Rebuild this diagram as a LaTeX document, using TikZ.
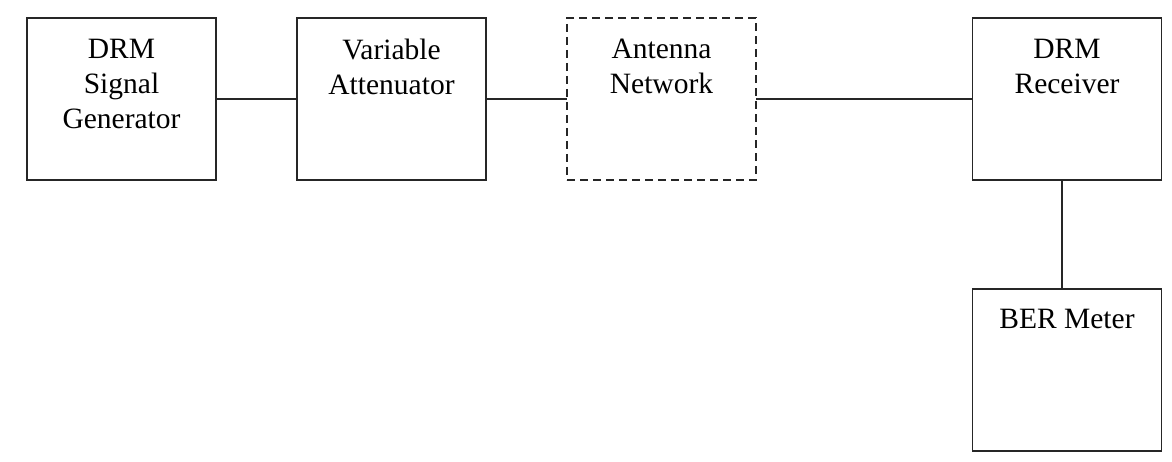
\documentclass[tikz,border=0pt]{standalone}
\usepackage{fontspec}
\setmainfont{Liberation Serif}
\begin{document}
\begin{tikzpicture}[x=1pt,y=-1pt,
  blk/.style={draw=black!85,line width=1.8pt,minimum width=189pt,minimum height=162pt,inner sep=0pt,outer sep=0pt},
  dblk/.style={blk,dash pattern=on 8pt off 5pt},
  txt/.style={font=\fontsize{29.5}{35}\selectfont,align=center,inner sep=0pt,anchor=north},
  wire/.style={draw=black!85,line width=1.8pt}]
\useasboundingbox (0,0) rectangle (1172,462);
\node[blk]  (G) at (121.5,99) {};
\node[blk]  (A) at (391.5,99) {};
\node[dblk] (N) at (661.5,99) {};
\node[blk]  (R) at (1067,99) {};
\node[blk]  (B) at (1067,370) {};
\node[txt] (Gt) at (121.5,38.5) {DRM\\Signal\\Generator};
\node[txt] (At) at (391.5,38.5) {Variable\\Attenuator};
\node[txt] (Nt) at (661.5,38.5) {Antenna\\Network};
\node[txt] (Rt) at (1067,38.5) {DRM\\Receiver};
\node[txt] (Bt) at (1067,309) {BER Meter};
\draw[wire] (G.east) -- (A.west);
\draw[wire] (A.east) -- (N.west);
\draw[wire] (N.east) -- (R.west);
\coordinate (v) at ([xshift=-5pt]R.south);
\draw[wire] (v) -- (v |- B.north);
\end{tikzpicture}
\end{document}
